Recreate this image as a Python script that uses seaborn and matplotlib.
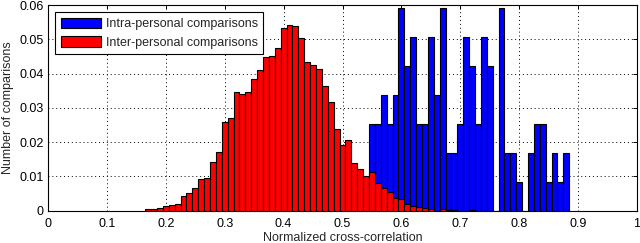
import matplotlib
matplotlib.use("Agg")
import matplotlib.pyplot as plt
from matplotlib.ticker import FuncFormatter
import seaborn as sns
import numpy as np

# Histogram bin centres (width 0.01) and heights
inter_centres = np.round(np.arange(0.17, 0.725, 0.01), 2)
inter_heights = [0.0004, 0.0004, 0.0008, 0.0013, 0.0017, 0.0020, 0.0043, 0.0051, 0.0065, 0.0093,
                 0.0095, 0.0143, 0.0171, 0.0258, 0.0270, 0.0346, 0.0340, 0.0346, 0.0385, 0.0409,
                 0.0449, 0.0452, 0.0475, 0.0534, 0.0541, 0.0539, 0.0504, 0.0433, 0.0426, 0.0414,
                 0.0363, 0.0317, 0.0238, 0.0192, 0.0207, 0.0140, 0.0121, 0.0100, 0.0112, 0.0080,
                 0.0065, 0.0056, 0.0038, 0.0033, 0.0019, 0.0014, 0.0012, 0.0007, 0.0004, 0.0000,
                 0.0004, 0.0002, 0.0002, 0.0000, 0.0000, 0.0002]

intra_centres = np.round(np.arange(0.55, 0.885, 0.01), 2)
intra_counts = [3, 3, 4, 3, 4, 7, 5, 6, 3, 3,
                6, 4, 7, 2, 2, 3, 6, 5, 3, 6,
                5, 0, 7, 2, 2, 1, 0, 2, 3, 3,
                1, 2, 1, 2]
INTRA_TOTAL = 118.3  # one comparison is ~0.00845 on the y axis

x_ticks = [0, 0.1, 0.2, 0.3, 0.4, 0.5, 0.6, 0.7, 0.8, 0.9, 1]
y_ticks = [0, 0.01, 0.02, 0.03, 0.04, 0.05, 0.06]

BIN_W = 0.01
FS = 9

sns.set_style("white")
plt.rcParams['font.family'] = ['Liberation Sans', 'DejaVu Sans']
plt.rcParams['font.size'] = FS

fig = plt.figure(figsize=(6.4, 2.43), dpi=100)
ax = fig.add_axes([48 / 640, 1 - 210.7 / 243, 589 / 640, (210.7 - 5) / 243])

intra_heights = np.array(intra_counts) / INTRA_TOTAL

sns.histplot(x=intra_centres, weights=intra_heights, binwidth=BIN_W,
             binrange=(intra_centres[0] - BIN_W / 2, intra_centres[-1] + BIN_W / 2),
             color=(0, 0, 1), alpha=1, edgecolor='black', linewidth=0.8,
             label='Intra-personal comparisons', ax=ax, zorder=2)
sns.histplot(x=inter_centres, weights=inter_heights, binwidth=BIN_W,
             binrange=(inter_centres[0] - BIN_W / 2, inter_centres[-1] + BIN_W / 2),
             color=(1, 0, 0), alpha=1, edgecolor='black', linewidth=0.8,
             label='Inter-personal comparisons', ax=ax, zorder=3)

ax.set_xlim(0, 1)
ax.set_ylim(0, 0.06)
ax.set_xticks(x_ticks)
ax.set_yticks(y_ticks)
fmt = FuncFormatter(lambda v, p: '%g' % v)
ax.xaxis.set_major_formatter(fmt)
ax.yaxis.set_major_formatter(fmt)
ax.tick_params(direction='in', length=3, width=0.7, top=True, right=True,
               labelsize=FS, colors='black')
ax.tick_params(axis='x', pad=5)
ax.tick_params(axis='y', pad=3)

ax.grid(True, color='black', linestyle=(0, (1, 3)), linewidth=0.7)
ax.set_axisbelow(True)
for s in ax.spines.values():
    s.set_visible(True)
    s.set_color('black')
    s.set_linewidth(0.8)

ax.set_xlabel('Normalized cross-correlation', fontsize=FS, labelpad=1.5)
ax.set_ylabel('Number of comparisons', fontsize=FS, labelpad=4)

leg = ax.legend(loc='upper left', bbox_to_anchor=(0.0119, 0.966), borderaxespad=0,
                fontsize=FS, handlelength=3.2, handleheight=0.96, handletextpad=0.4,
                borderpad=0.45, labelspacing=0.44, fancybox=False, framealpha=1)
leg.get_frame().set_edgecolor('black')
leg.get_frame().set_linewidth(0.8)

fig.savefig('out.png', dpi=100)
